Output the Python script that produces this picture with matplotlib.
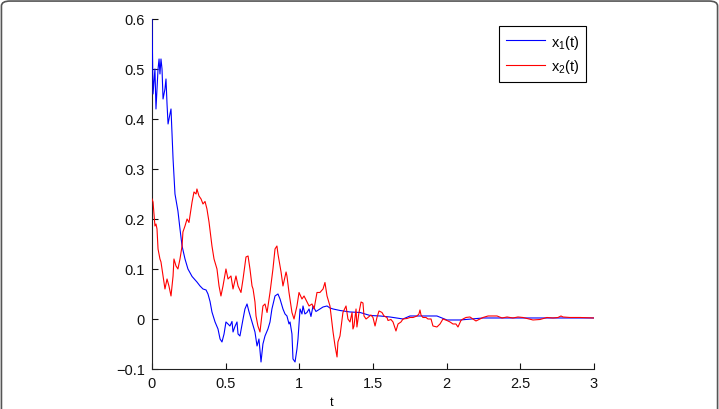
import matplotlib
matplotlib.use("Agg")
import matplotlib.pyplot as plt
from matplotlib.patches import FancyBboxPatch

# x1(t), blue
t1 = [0.0, 0.007, 0.02, 0.027, 0.041, 0.048, 0.054, 0.061, 0.068, 0.075,
      0.088, 0.095, 0.102, 0.109, 0.122, 0.129, 0.143, 0.156, 0.176, 0.19,
      0.204, 0.224, 0.244, 0.272, 0.305, 0.326, 0.346, 0.367, 0.38, 0.394,
      0.407, 0.428, 0.448, 0.462, 0.475, 0.489, 0.502, 0.516, 0.529, 0.543,
      0.55, 0.563, 0.577, 0.584, 0.597, 0.618, 0.631, 0.645, 0.658, 0.679,
      0.699, 0.713, 0.726, 0.74, 0.753, 0.767, 0.787, 0.801, 0.814, 0.835,
      0.855, 0.869, 0.889, 0.903, 0.916, 0.93, 0.937, 0.95, 0.957, 0.971,
      0.984, 0.991, 1.005, 1.018, 1.025, 1.038, 1.052, 1.066, 1.079, 1.093,
      1.113, 1.14, 1.161, 1.188, 1.208, 1.229, 1.276, 1.344, 1.412, 1.48,
      1.548, 1.615, 1.704, 1.751, 1.819, 1.934, 2.002, 2.091, 2.247, 2.498,
      2.769, 3.0]
x1 = [0.60, 0.45, 0.50, 0.42, 0.50, 0.52, 0.49, 0.52, 0.50, 0.44,
      0.46, 0.48, 0.43, 0.39, 0.41, 0.42, 0.32, 0.25, 0.216, 0.18,
      0.146, 0.12, 0.10, 0.085, 0.074, 0.066, 0.06, 0.058, 0.05, 0.035,
      0.014, -0.006, -0.02, -0.04, -0.046, -0.03, -0.006, -0.01, -0.014, -0.005,
      -0.026, -0.015, -0.006, -0.03, -0.034, 0.0, 0.02, 0.03, 0.015, -0.006,
      -0.026, -0.054, -0.04, -0.086, -0.05, -0.034, -0.02, -0.006, 0.02, 0.046,
      0.05, 0.04, 0.02, 0.01, 0.006, -0.01, -0.006, -0.03, -0.08, -0.086,
      -0.06, -0.04, 0.02, 0.01, 0.026, 0.01, 0.013, 0.02, 0.005, 0.026,
      0.015, 0.02, 0.024, 0.026, 0.022, 0.02, 0.017, 0.014, 0.013, 0.007,
      0.006, 0.004, 0.0, 0.006, 0.006, 0.006, -0.002, -0.002, 0.002, 0.002,
      0.002, 0.002]

# x2(t), red
t2 = [0.0, 0.007, 0.02, 0.027, 0.034, 0.041, 0.054, 0.061, 0.075, 0.088,
      0.102, 0.115, 0.129, 0.143, 0.149, 0.163, 0.176, 0.19, 0.204, 0.21,
      0.224, 0.238, 0.251, 0.272, 0.285, 0.299, 0.305, 0.319, 0.333, 0.346,
      0.36, 0.373, 0.387, 0.407, 0.421, 0.441, 0.455, 0.468, 0.482, 0.502,
      0.516, 0.536, 0.55, 0.57, 0.584, 0.604, 0.618, 0.638, 0.652, 0.665,
      0.679, 0.686, 0.699, 0.706, 0.719, 0.733, 0.753, 0.767, 0.781, 0.801,
      0.821, 0.835, 0.848, 0.855, 0.876, 0.889, 0.91, 0.916, 0.93, 0.95,
      0.964, 0.984, 0.998, 1.018, 1.032, 1.052, 1.066, 1.086, 1.1, 1.12,
      1.14, 1.161, 1.174, 1.188, 1.208, 1.229, 1.242, 1.256, 1.262, 1.276,
      1.296, 1.317, 1.33, 1.344, 1.358, 1.364, 1.371, 1.385, 1.391, 1.405,
      1.419, 1.432, 1.439, 1.453, 1.466, 1.486, 1.5, 1.514, 1.527, 1.541,
      1.561, 1.575, 1.595, 1.602, 1.622, 1.636, 1.656, 1.67, 1.69, 1.704,
      1.731, 1.751, 1.772, 1.799, 1.812, 1.819, 1.826, 1.839, 1.86, 1.873,
      1.894, 1.907, 1.934, 1.955, 1.975, 2.002, 2.023, 2.043, 2.063, 2.077,
      2.097, 2.111, 2.131, 2.158, 2.199, 2.247, 2.281, 2.342, 2.376, 2.41,
      2.45, 2.484, 2.518, 2.586, 2.634, 2.681, 2.722, 2.756, 2.776, 2.79,
      2.837, 2.905, 3.0]
x2 = [0.24, 0.234, 0.186, 0.19, 0.18, 0.14, 0.12, 0.114, 0.086, 0.06,
      0.08, 0.066, 0.046, 0.086, 0.12, 0.106, 0.10, 0.12, 0.146, 0.174,
      0.186, 0.20, 0.193, 0.234, 0.254, 0.25, 0.26, 0.246, 0.24, 0.23,
      0.235, 0.22, 0.194, 0.146, 0.12, 0.10, 0.066, 0.046, 0.066, 0.10,
      0.08, 0.086, 0.06, 0.086, 0.066, 0.053, 0.08, 0.124, 0.126, 0.10,
      0.066, 0.06, 0.034, 0.006, -0.014, -0.026, 0.026, 0.03, 0.013, 0.053,
      0.10, 0.14, 0.146, 0.13, 0.094, 0.066, 0.094, 0.086, 0.053, 0.013,
      0.0, 0.026, 0.053, 0.04, 0.046, 0.034, 0.026, 0.03, 0.02, 0.053,
      0.053, 0.06, 0.073, 0.046, 0.026, -0.026, -0.053, -0.076, -0.046, -0.034,
      0.013, 0.026, 0.0, -0.006, 0.013, -0.02, -0.014, 0.02, -0.016, 0.013,
      0.034, 0.032, 0.006, 0.0, 0.003, 0.008, 0.003, -0.014, 0.003, 0.016,
      0.013, 0.006, 0.003, -0.003, -0.001, -0.006, -0.024, -0.01, -0.006, 0.0,
      0.001, 0.003, 0.003, 0.006, 0.01, 0.018, 0.008, 0.003, 0.003, 0.0,
      0.0, -0.014, -0.016, -0.01, 0.0, -0.003, -0.006, -0.01, -0.01, -0.016,
      -0.003, 0.0, 0.003, 0.004, -0.004, 0.003, 0.006, 0.006, 0.002, 0.004,
      0.002, 0.004, 0.003, -0.002, -0.001, 0.003, 0.002, 0.003, 0.006, 0.004,
      0.003, 0.003, 0.002]

xticks = [0, 0.5, 1, 1.5, 2, 2.5, 3]
xlabels = ["0", "0.5", "1", "1.5", "2", "2.5", "3"]
yticks = [-0.1, 0, 0.1, 0.2, 0.3, 0.4, 0.5, 0.6]
ylabels = ["\u22120.1", "0", "0.1", "0.2", "0.3", "0.4", "0.5", "0.6"]

plt.rcParams['font.family'] = ['Liberation Sans', 'DejaVu Sans']
plt.rcParams['mathtext.fontset'] = 'custom'
plt.rcParams['mathtext.rm'] = 'Liberation Sans'

fig = plt.figure(figsize=(7.19, 4.10), dpi=100)
ax = fig.add_axes([0.2114, 0.0976, 0.6147, 0.8537])

ax.plot(t1, x1, color=(0, 0, 1), lw=0.8, label="x$_\\mathrm{1}$(t)", zorder=3)
ax.plot(t2, x2, color=(1, 0, 0), lw=0.8, label="x$_\\mathrm{2}$(t)", zorder=3)

ax.set_xlim(0, 3)
ax.set_ylim(-0.1, 0.6)
ax.set_xticks(xticks)
ax.set_xticklabels(xlabels)
ax.set_yticks(yticks)
ax.set_yticklabels(ylabels)
ax.tick_params(direction='in', length=4, width=0.8, labelsize=10.5, pad=5,
               colors='#111111')
ax.spines['top'].set_visible(False)
ax.spines['right'].set_visible(False)
for s in ['left', 'bottom']:
    ax.spines[s].set_color('#222222')
    ax.spines[s].set_linewidth(0.8)

leg = ax.legend(loc='upper right', bbox_to_anchor=(0.982, 0.98), borderaxespad=0,
                fontsize=10.5, handlelength=2.7, handletextpad=0.4,
                fancybox=False, framealpha=1, edgecolor='black',
                labelspacing=0.45, borderpad=0.45)
leg.get_frame().set_linewidth(0.8)
leg.set_zorder(5)

# partially visible axis label at the bottom edge
fig.text(332 / 719, 0.002, "t", ha='center', va='bottom', fontsize=9)

# rounded frame around the figure
frame = FancyBboxPatch((0.002, -0.2), 0.996, 1.195, transform=fig.transFigure,
                       boxstyle="round,pad=0,rounding_size=0.012",
                       fill=False, edgecolor='#555555', lw=1.2)
fig.patches.append(frame)

fig.savefig("out.png", dpi=100)
